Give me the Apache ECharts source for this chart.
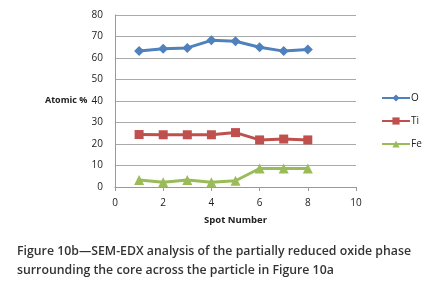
<!DOCTYPE html>
<html>
<head>
<meta charset="utf-8">
<script src="https://cdn.jsdelivr.net/npm/echarts@6/dist/echarts.min.js"></script>
<style>
  html, body { margin: 0; padding: 0; background: #fff; }
  #chart { width: 438px; height: 291px; }
</style>
</head>
<body>
<div id="chart"></div>
<script>
// spot numbers along the particle
const spots = [1, 2, 3, 4, 5, 6, 7, 8]
// atomic % per element
const oValues = [63.3, 64.3, 64.7, 68.2, 67.8, 65.0, 63.2, 64.0]
const tiValues = [24.4, 24.3, 24.3, 24.3, 25.3, 21.9, 22.3, 21.9]
const feValues = [3.3, 2.2, 3.3, 2.2, 2.9, 8.6, 8.6, 8.6]

const chart = echarts.init(document.getElementById('chart'))

const pairs = (vals) => spots.map((s, i) => [s, vals[i]])

const font = '"Open Sans", "DejaVu Sans", sans-serif'

const option = {
  animation: false,
  textStyle: { fontFamily: font },
  title: {
    text: 'Figure 10b—SEM-EDX analysis of the partially reduced oxide phase\nsurrounding the core across the particle in Figure 10a',
    left: 17,
    top: 242,
    padding: 0,
    textStyle: {
      fontSize: 12.3,
      fontWeight: 600,
      color: '#333',
      lineHeight: 19,
      fontFamily: font,
    },
  },
  grid: {
    left: 115,
    top: 15,
    width: 241,
    height: 172,
  },
  xAxis: {
    type: 'value',
    min: 0,
    max: 10,
    interval: 2,
    name: 'Spot Number',
    nameLocation: 'middle',
    nameGap: 28,
    nameTextStyle: { fontSize: 9.5, fontWeight: 'bold', color: '#222' },
    axisLine: { lineStyle: { color: '#999' } },
    axisTick: { show: true, length: 4, lineStyle: { color: '#999' } },
    axisLabel: { fontSize: 10, color: '#222', margin: 11 },
    splitLine: { show: false },
  },
  yAxis: {
    type: 'value',
    min: 0,
    max: 80,
    interval: 10,
    axisLine: { show: true, lineStyle: { color: '#999' } },
    axisTick: { show: false },
    axisLabel: { fontSize: 10, color: '#222', margin: 12 },
    splitLine: { lineStyle: { color: '#aaa' } },
  },
  legend: {
    orient: 'vertical',
    left: 376,
    top: 88,
    itemWidth: 28,
    itemHeight: 9,
    itemGap: 13,
    textStyle: { fontSize: 10, color: '#222', padding: [0, 0, 0, -4] },
    data: ['O', 'Ti', 'Fe'],
  },
  graphic: [{
    type: 'text',
    left: 45,
    top: 96,
    style: {
      text: 'Atomic %',
      fontSize: 9,
      fontWeight: 'bold',
      fill: '#222',
      fontFamily: font,
    },
  }],
  series: [
    {
      name: 'O',
      type: 'line',
      data: pairs(oValues),
      symbol: 'diamond',
      symbolSize: 10,
      color: '#4F81BD',
      lineStyle: { width: 3 },
    },
    {
      name: 'Ti',
      type: 'line',
      data: pairs(tiValues),
      symbol: 'rect',
      symbolSize: 9,
      color: '#C0504D',
      lineStyle: { width: 3 },
    },
    {
      name: 'Fe',
      type: 'line',
      data: pairs(feValues),
      symbol: 'triangle',
      symbolSize: 10,
      color: '#9BBB59',
      lineStyle: { width: 3 },
    },
  ],
}

chart.setOption(option)
</script>
</body>
</html>
